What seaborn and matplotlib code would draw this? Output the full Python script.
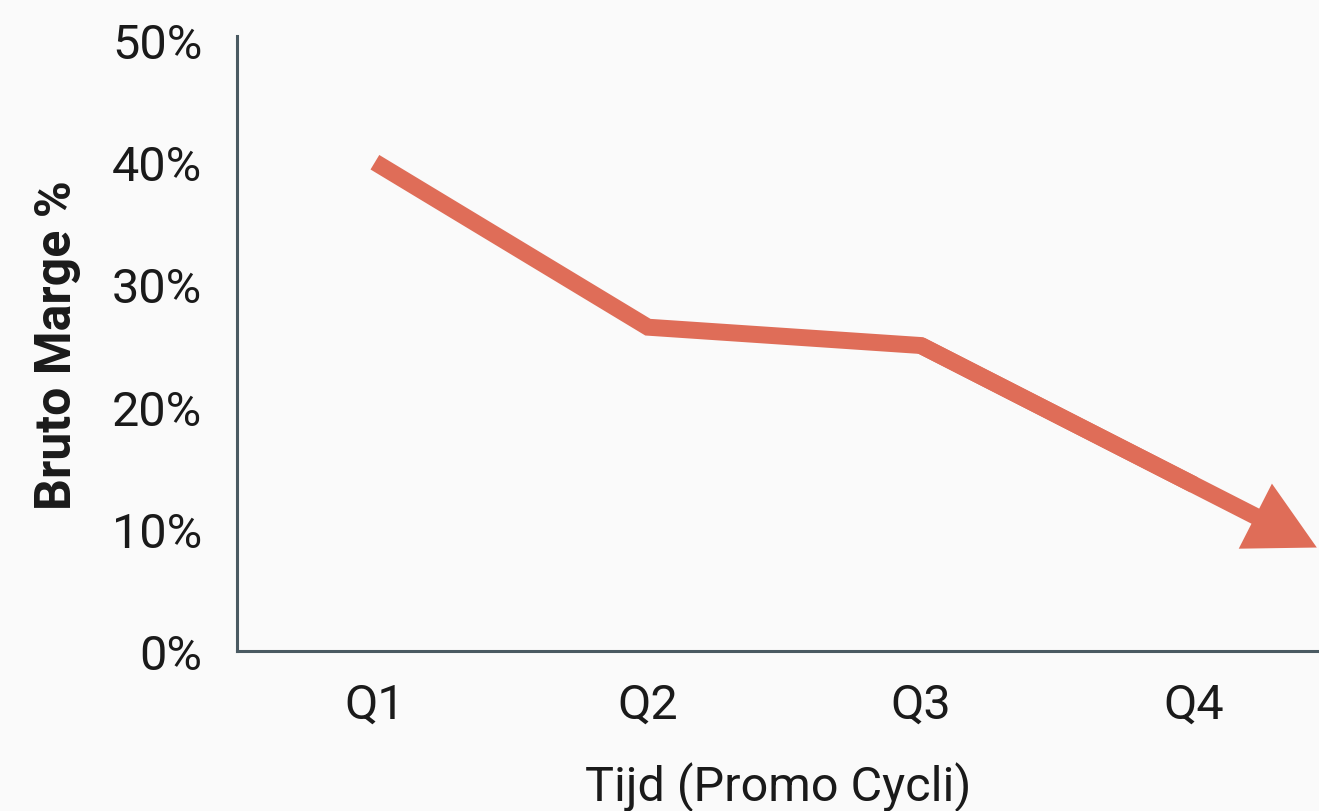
import seaborn as sns
import matplotlib.pyplot as plt
import pandas as pd

# data
quarters = ['Q1', 'Q2', 'Q3', 'Q4']
marge = [40.0, 26.5, 25.0, 13.6]
yticks = [0, 10, 20, 30, 40, 50]
ytick_labels = ['0%', '10%', '20%', '30%', '40%', '50%']
arrow_extend = 0.45  # trend continues past Q4

df = pd.DataFrame({'kwartaal': quarters, 'marge': marge})

sns.set_theme(style='white')
plt.rcParams['font.family'] = ['Roboto', 'DejaVu Sans']

fig = plt.figure(figsize=(13.19, 8.12), dpi=100, facecolor='#fafafa')
ax = fig.add_axes([0.1797, 0.197, 0.8203, 0.757])
ax.set_facecolor('#fafafa')

col = '#df6d58'
sns.lineplot(data=df, x='kwartaal', y='marge', ax=ax, color=col, lw=12.2,
             solid_capstyle='butt', solid_joinstyle='miter', sort=False)

# arrow along the last segment, head sticking out past Q4
x_end = len(quarters) - 1
slope = marge[-1] - marge[-2]
ax.annotate('', xy=(x_end + arrow_extend, marge[-1] + slope * arrow_extend),
            xytext=(x_end - 1, marge[-2]),
            arrowprops=dict(arrowstyle='simple,head_length=4.97,head_width=5.26,tail_width=1.22',
                            mutation_scale=10, color=col, lw=0, shrinkA=0, shrinkB=0))

ax.set_xlim(-0.505, 3.458)
ax.set_ylim(0, 50.3)
ax.set_yticks(yticks)
ax.set_yticklabels(ytick_labels)

for s in ['top', 'right']:
    ax.spines[s].set_visible(False)
for s in ['left', 'bottom']:
    ax.spines[s].set_color('#4a5a62')
    ax.spines[s].set_linewidth(2.2)

ax.tick_params(axis='y', length=0, pad=25, labelsize=35, labelcolor='#1a1a1a')
ax.tick_params(axis='x', length=0, pad=22, labelsize=35, labelcolor='#1a1a1a')
ax.set_xlabel('Tijd (Promo Cycli)', fontsize=35, color='#1a1a1a', labelpad=24)
ax.set_ylabel('Bruto Marge %', fontsize=36, fontweight='bold', color='#1a1a1a', labelpad=22)
ax.grid(False)

fig.savefig('out.png', dpi=100, facecolor=fig.get_facecolor())
